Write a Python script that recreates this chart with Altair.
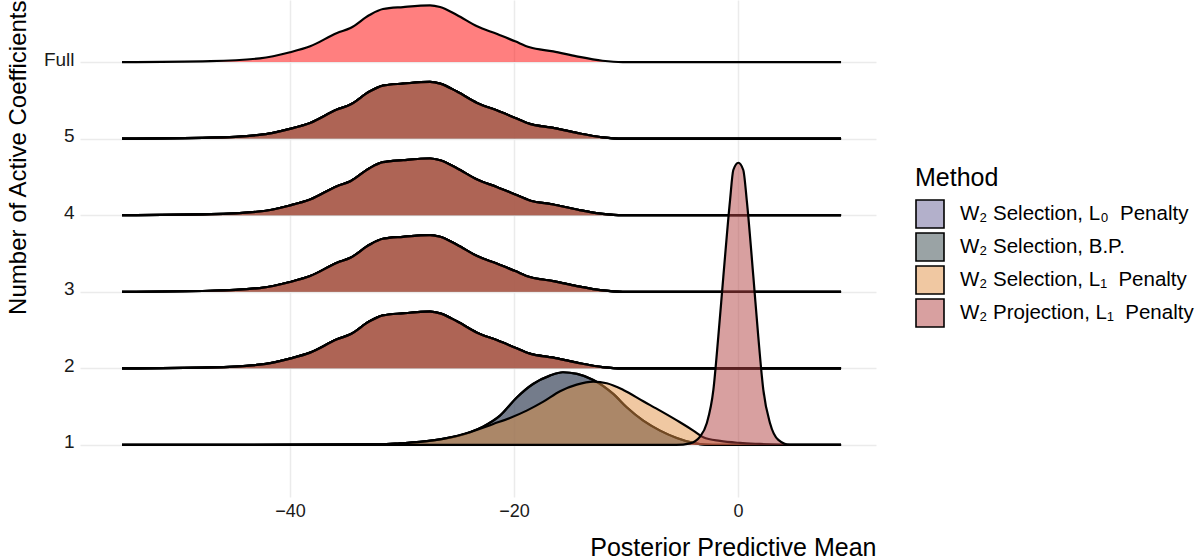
import altair as alt
import pandas as pd

# ---- categories ----
methods = [
    "W₂ Selection, L₀\u00a0 Penalty",
    "W₂ Selection, B.P.",
    "W₂ Selection, L₁\u00a0 Penalty",
    "W₂ Projection, L₁\u00a0 Penalty",
]
method_colors = ["#676197", "#35474B", "#E19145", "#B14141"]   # drawn at 50% opacity
legend_colors = ["#B3B0CB", "#9AA3A5", "#F0C8A2", "#D8A0A0"]   # as the keys appear
full_color = "#FF0000"

row_values = [1, 2, 3, 4, 5, 6]
row_labels = ["1", "2", "3", "4", "5", "Full"]
x_ticks = [-40, -20, 0]

# ---- density ridges (height in row units) ----
# shape shared by the "Full" row and rows 2-5 (all methods identical there)
x_wide = [-55.0, -47.1, -42.7, -40.0, -38.2, -35.8, -34.6, -32.9, -31.7, -29.9,
          -27.5, -26.6, -25.1, -23.3, -21.5, -19.9, -18.6, -16.5, -14.4, -12.1,
          -10.3, 9.2]
h_wide = [0.0, 0.013, 0.048, 0.127, 0.205, 0.379, 0.444, 0.614, 0.692, 0.718,
          0.740, 0.718, 0.614, 0.466, 0.366, 0.270, 0.192, 0.140, 0.074, 0.017,
          0.0, 0.0]

# row 1: L0 penalty and B.P. selection (coincide)
x_sel = [-55.0, -31.96, -30.18, -28.39, -26.34, -23.93, -22.77, -21.25, -19.73,
         -18.30, -16.79, -15.63, -14.38, -12.92, -11.14, -9.94, -8.46, -6.96,
         -5.47, -3.99, -2.95, -1.61, 9.2]
h_sel = [0.0, 0.0065, 0.020, 0.039, 0.078, 0.166, 0.239, 0.383, 0.623,
         0.796, 0.905, 0.949, 0.927, 0.849, 0.666, 0.492, 0.317, 0.187,
         0.091, 0.026, 0.004, 0.0, 0.0]

# row 1: L1 penalty selection
x_l1 = [-55.0, -31.96, -30.18, -28.39, -26.34, -23.93, -21.85, -20.36, -18.87,
        -17.38, -15.89, -14.40, -12.92, -11.72, -10.24, -8.46, -6.96, -5.18,
        -3.99, -3.10, -1.61, 0.18, 1.96, 4.38, 9.2]
h_l1 = [0.0, 0.0065, 0.020, 0.039, 0.078, 0.166, 0.274, 0.352, 0.448,
        0.565, 0.701, 0.787, 0.826, 0.805, 0.718, 0.570, 0.448, 0.296,
        0.187, 0.100, 0.052, 0.026, 0.013, 0.0, 0.0]

# row 1: L1 penalty projection
x_proj = [-55.0, -5.5, -4.29, -3.39, -2.79, -2.20, -1.76, -1.31, -0.71, -0.42,
          0.03, 0.47, 0.78, 1.37, 1.81, 2.26, 2.86, 3.60, 4.64, 9.2]
h_proj = [0.0, 0.0, 0.02, 0.108, 0.283, 0.718, 1.414, 2.197, 3.198, 3.59,
          3.685, 3.59, 3.198, 2.197, 1.414, 0.718, 0.283, 0.065, 0.0, 0.0]

FONT = "Liberation Sans"
LINE_W = 2.2

x_enc = alt.X(
    "x:Q",
    scale=alt.Scale(domain=[-58.75, 12.32], nice=False, zero=False),
    axis=alt.Axis(
        values=x_ticks, title="Posterior Predictive Mean", grid=True,
        ticks=False, domain=False, labelPadding=5, labelFontSize=18,
        labelExpr="replace(datum.label, '-', '\u2212')",
        titleX=796, titleY=58, titleAlign="right", titleBaseline="alphabetic",
        titleAnchor="end", titleFontSize=25,
    ),
)
y_enc = alt.Y(
    "top:Q",
    scale=alt.Scale(domain=[0.32, 6.81], nice=False, zero=False),
    axis=alt.Axis(
        values=row_values, title="Number of Active Coefficients", grid=True,
        ticks=False, domain=False, labelPadding=6, labelOffset=-3,
        labelFontSize=19,
        labelExpr="datum.value == 6 ? 'Full' : datum.label",
        titleX=-55, titleY=0, titleAngle=270, titleAlign="right",
        titleBaseline="alphabetic", titleAnchor="end", titleFontSize=24,
    ),
)


def frame(xs, hs, row, method):
    return pd.DataFrame({
        "x": xs,
        "top": [row + h for h in hs],
        "base": [row] * len(xs),
        "Method": [method] * len(xs),
    })


def pair(df, fill):
    base = alt.Chart(df)
    area = base.mark_area(fillOpacity=0.5, interpolate="monotone", fill=fill,
                          strokeWidth=0).encode(x=x_enc, y=y_enc, y2="base:Q")
    line = base.mark_line(color="black", strokeWidth=LINE_W,
                          interpolate="monotone").encode(x=x_enc, y=y_enc)
    return [area, line]


layers = []
layers += pair(frame(x_wide, h_wide, 6, "Full"), full_color)
for row in [5, 4, 3, 2]:
    for m, c in zip(methods, method_colors):
        layers += pair(frame(x_wide, h_wide, row, m), c)
row1 = [(x_sel, h_sel), (x_sel, h_sel), (x_l1, h_l1), (x_proj, h_proj)]
for m, c, (xs, hs) in zip(methods, method_colors, row1):
    layers += pair(frame(xs, hs, 1, m), c)

# legend keys (points sit outside the x domain and are clipped away)
legend_df = pd.DataFrame({"Method": methods, "x": [-100.0] * 4, "top": [3.0] * 4})
legend_layer = alt.Chart(legend_df).mark_square(filled=True, clip=True, opacity=1).encode(
    x=x_enc, y=y_enc,
    color=alt.Color(
        "Method:N",
        scale=alt.Scale(domain=methods, range=legend_colors),
        legend=alt.Legend(
            title="Method", orient="none", legendX=835, legendY=166,
            symbolType="square", symbolSize=784, symbolStrokeColor="black",
            symbolStrokeWidth=1.6, symbolOpacity=1, labelFontSize=20.5,
            titleFontSize=25, labelOffset=15, rowPadding=-3, titlePadding=8,
            labelLimit=400, labelFont=FONT, titleFont=FONT,
            labelColor="black", titleColor="black", titleFontWeight="normal",
        ),
    ),
)
layers.append(legend_layer)

chart = alt.layer(*layers).properties(
    width=796, height=497,
    autosize=alt.AutoSizeParams(type="none"),
    padding={"left": 80, "top": 0, "right": 328, "bottom": 63},
).configure_view(stroke=None).configure_axis(
    labelFont=FONT, titleFont=FONT,
    labelColor="#1a1a1a", titleColor="black", titleFontWeight="normal",
    gridColor="#EBEBEB", gridWidth=1.5,
)

chart.save("out.html", embed_options={"renderer": "svg", "actions": False})
